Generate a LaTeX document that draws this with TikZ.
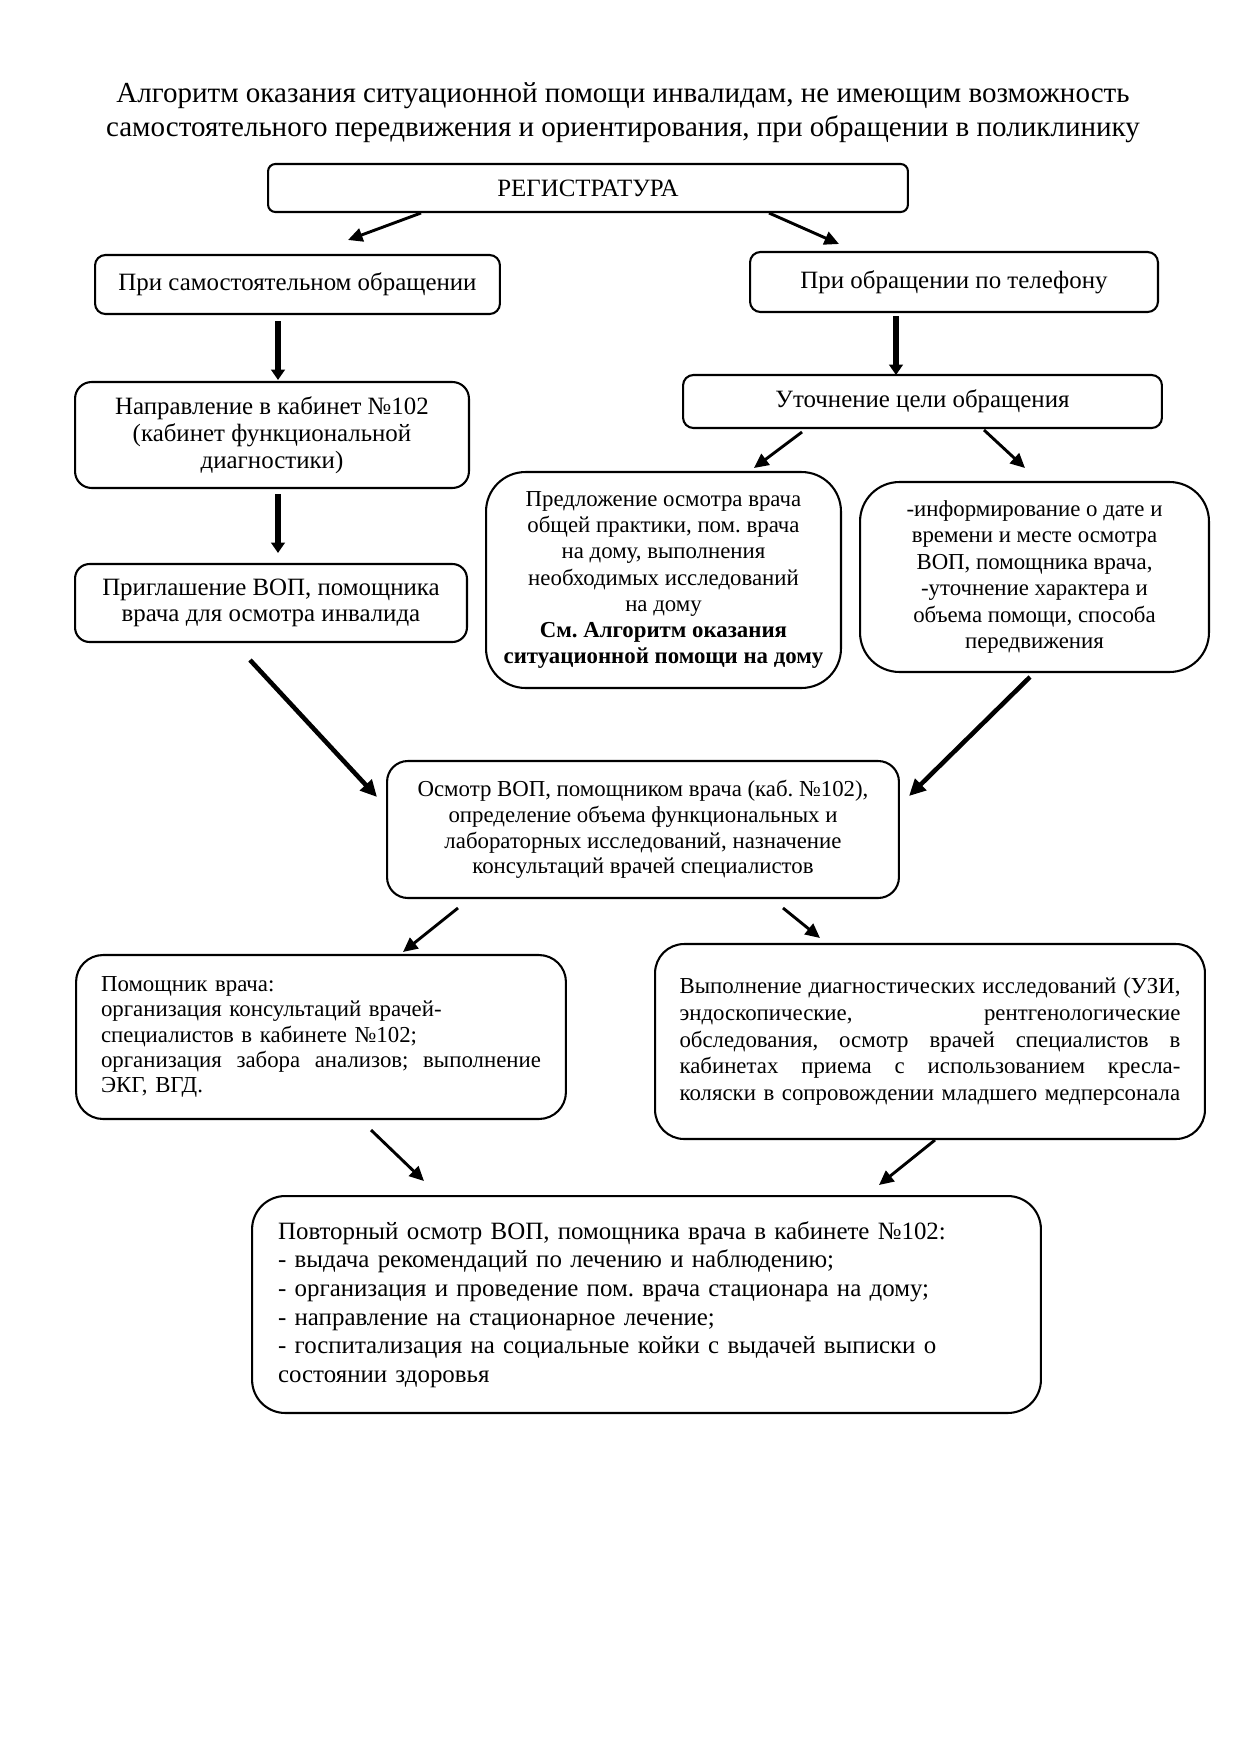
\documentclass[tikz,border=0pt]{standalone}
\usepackage{fontspec}
\setmainfont{Liberation Serif}
\usetikzlibrary{arrows.meta}
\newlength\pomw \setlength\pomw{211.99pt}
\newlength\vypw \setlength\vypw{241.38pt}
\newcommand{\jl}[2]{\leavevmode\hbox to #1{#2}}
\def\p{0.4818pt}
\begin{document}
\frenchspacing
\begin{tikzpicture}[x=0.0169333cm,y=-0.0169333cm,
  box/.style={draw, line width=1pt, inner sep=0pt, rounded corners=#1},
  box/.default=4pt,
  fs12/.style={font=\fontsize{12}{13.8}\selectfont},
  fs11/.style={font=\fontsize{11}{12.6}\selectfont},
  arrthin/.style={line width=1.4pt, -{Triangle[length=7pt,width=6.5pt]}},
  arrmed/.style={line width=2.2pt, -{Triangle[length=8pt,width=7.5pt]}},
  arrthick/.style={line width=3.2pt, -{Triangle[length=5pt,width=6.5pt]}}
]
\useasboundingbox (0,0) rectangle (1240,1755);

% title
\node[anchor=base, font=\fontsize{14}{16}\selectfont] (t1) at (623,102.5)
  {Алгоритм оказания ситуационной помощи инвалидам, не имеющим возможность};
\node[anchor=base, font=\fontsize{14}{16}\selectfont] (t2) at (623,136)
  {самостоятельного передвижения и ориентирования, при обращении в поликлинику};

% boxes
\node[box=3.5pt, fs12, minimum width={640*\p}, minimum height={48*\p}] (reg) at (588,188) {РЕГИСТРАТУРА};
\node[box=5pt, fs12, minimum width={405*\p}, minimum height={59*\p}] (self) at (297.5,284.5) {При самостоятельном обращении};
\node[box=5pt, fs12, minimum width={408*\p}, minimum height={60*\p}] (phone) at (954,282) {При обращении по телефону};
\node[box=8pt, font=\fontsize{12}{13}\selectfont, align=center, minimum width={394*\p}, minimum height={106*\p}] (napr) at (272,435)
  {Направление в кабинет №102\\(кабинет функциональной\\диагностики)};
\node[box=5pt, fs12, minimum width={479*\p}, minimum height={53*\p}] (utoch) at (922.5,401.5) {Уточнение цели обращения};
\node[box=7pt, font=\fontsize{12}{12.2}\selectfont, align=center, minimum width={392*\p}, minimum height={78*\p}] (prigl) at (271,603)
  {Приглашение ВОП, помощника\\врача для осмотра инвалида};
\node[box=19pt, fs11, align=center, minimum width={355*\p}, minimum height={216*\p}] (predl) at (663.5,580)
  {Предложение осмотра врача\\общей практики, пом. врача\\на дому, выполнения\\необходимых исследований\\на дому\\\textbf{См. Алгоритм оказания}\\\textbf{ситуационной помощи на дому}};
\node[box=19pt, font=\fontsize{11}{12.7}\selectfont, align=center, minimum width={349*\p}, minimum height={190*\p}] (inform) at (1034.5,577)
  {-информирование о дате и\\времени и месте осмотра\\ВОП, помощника врача,\\-уточнение характера и\\объема помощи, способа\\передвижения};
\node[box=10pt, font=\fontsize{11}{12.4}\selectfont, align=center, minimum width={512*\p}, minimum height={137*\p}] (osmotr) at (643,829.5)
  {Осмотр ВОП, помощником врача (каб. №102),\\определение объема функциональных и\\лабораторных исследований, назначение\\консультаций врачей специалистов};
\node[box=13pt, font=\fontsize{11}{12.1}\selectfont, align=left, text width=\pomw, minimum width={490*\p}, minimum height={164*\p}] (pomosh) at (321,1037)
  {Помощник врача:\\организация консультаций врачей-\\специалистов в кабинете №102;\\\jl{\pomw}{организация\hfill забора\hfill анализов;\hfill выполнение}\\ЭКГ, ВГД.};
\node[box=14pt, font=\fontsize{11}{12.85}\selectfont, align=left, text width=\vypw, minimum width={550*\p}, minimum height={195*\p}] (vypoln) at (930,1041.5)
  {\jl{\vypw}{Выполнение\hfill диагностических\hfill исследований\hfill (УЗИ,}\\\jl{\vypw}{эндоскопические,\hfill рентгенологические}\\\jl{\vypw}{обследования,\hfill осмотр\hfill врачей\hfill специалистов\hfill в}\\\jl{\vypw}{кабинетах\hfill приема\hfill с\hfill использованием\hfill кресла-}\\коляски в сопровождении младшего медперсонала};
\node[box=16pt, font=\fontsize{12}{13.75}\selectfont, align=left, text width={737*\p}, minimum width={789*\p}, minimum height={217*\p}] (povt) at (646.5,1304.5)
  {Повторный осмотр ВОП, помощника врача в кабинете №102:\\- выдача рекомендаций по лечению и наблюдению;\\- организация и проведение пом. врача стационара на дому;\\- направление на стационарное лечение;\\- госпитализация на социальные койки с выдачей выписки о\\состоянии здоровья};

% arrow end points
\coordinate (a1s) at (421,213);  \coordinate (a1e) at (348,240);
\coordinate (a2s) at (769,213);  \coordinate (a2e) at (839,244);
\coordinate (a3s) at (278,321);  \coordinate (a3e) at (278,380);
\coordinate (a4s) at (896,316);  \coordinate (a4e) at (896,375);
\coordinate (a5s) at (278,494);  \coordinate (a5e) at (278,553);
\coordinate (a6s) at (802,432);  \coordinate (a6e) at (754,468);
\coordinate (a7s) at (984,430);  \coordinate (a7e) at (1025,468);
\coordinate (a8s) at (250,660);  \coordinate (a8e) at (377,797);
\coordinate (a9s) at (1030,677); \coordinate (a9e) at (909,796);
\coordinate (a10s) at (458,908); \coordinate (a10e) at (403,952);
\coordinate (a11s) at (783,908); \coordinate (a11e) at (820,938);
\coordinate (a12s) at (371,1130); \coordinate (a12e) at (424,1181);
\coordinate (a13s) at (935,1140); \coordinate (a13e) at (879,1185);

\draw[arrthin] (a1s) -- (a1e);
\draw[arrthin] (a2s) -- (a2e);
\draw[arrthick] (a3s) -- (a3e);
\draw[arrthick] (a4s) -- (a4e);
\draw[arrthick] (a5s) -- (a5e);
\draw[arrthin] (a6s) -- (a6e);
\draw[arrthin] (a7s) -- (a7e);
\draw[arrmed] (a8s) -- (a8e);
\draw[arrmed] (a9s) -- (a9e);
\draw[arrthin] (a10s) -- (a10e);
\draw[arrthin] (a11s) -- (a11e);
\draw[arrthin] (a12s) -- (a12e);
\draw[arrthin] (a13s) -- (a13e);
\end{tikzpicture}
\end{document}
